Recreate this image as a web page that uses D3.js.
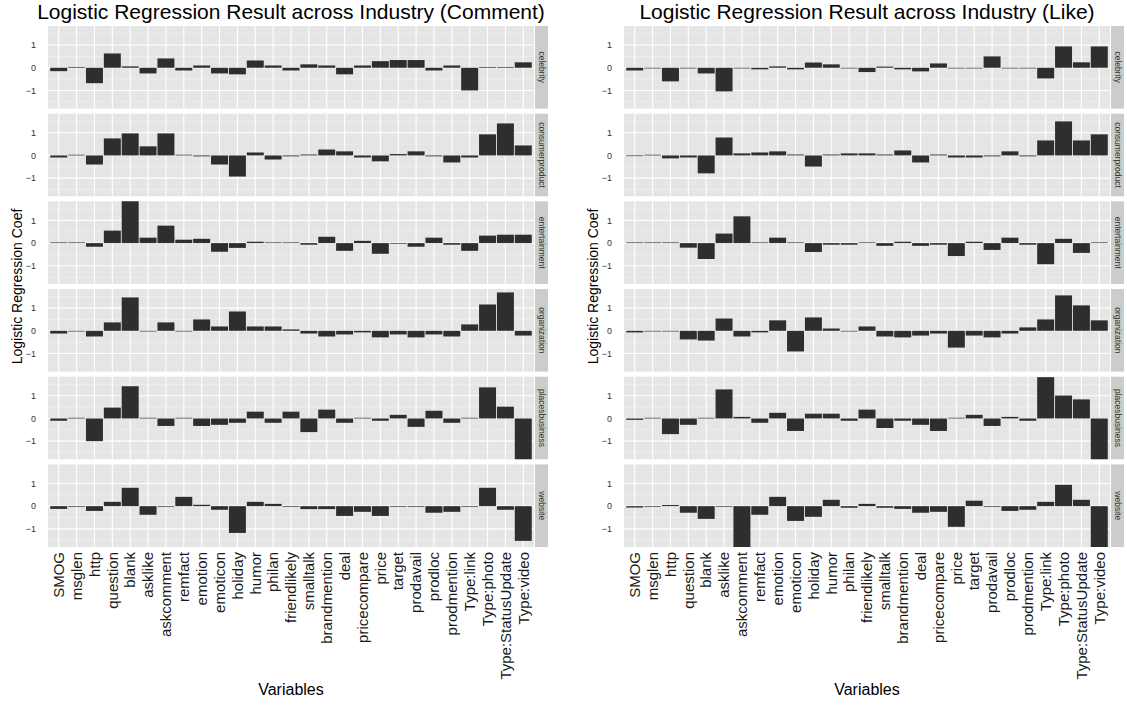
<!DOCTYPE html>
<html>
<head>
<meta charset="utf-8">
<script src="https://cdn.jsdelivr.net/npm/d3@7"></script>
<style>
  body { margin: 0; background: #fff; }
  text { font-family: "Liberation Sans", Arial, sans-serif; }
</style>
</head>
<body>
<div id="chart"></div>
<script>
////////////////////////////////////////////////////////////
//////////////////////// Data //////////////////////////////
////////////////////////////////////////////////////////////

var variables = ["SMOG", "msglen", "http", "question", "blank", "asklike", "askcomment",
  "remfact", "emotion", "emoticon", "holiday", "humor", "philan", "friendlikely",
  "smalltalk", "brandmention", "deal", "pricecompare", "price", "target", "prodavail",
  "prodloc", "prodmention", "Type:link", "Type:photo", "Type:StatusUpdate", "Type:video"];

var industries = ["celebrity", "consumerproduct", "entertainment", "organization", "placesbusiness", "website"];

var yTicks = [-1, 0, 1];
var yMinorTicks = [-1.5, -0.5, 0.5, 1.5];

// comment model coefficients, one array per industry (same order as variables)
var commentCelebrity = [-0.15, 0.03, -0.68, 0.63, 0.06, -0.25, 0.41, -0.12, 0.1, -0.25, -0.29, 0.32, 0.1, -0.12,
  0.15, 0.1, -0.29, 0.1, 0.29, 0.34, 0.34, -0.12, 0.1, -1.0, 0.03, 0.03, 0.24];
var commentConsumer = [-0.09, 0.03, -0.4, 0.75, 0.97, 0.4, 0.97, 0.03, -0.04, -0.4, -0.93, 0.13, -0.18, -0.04,
  0.04, 0.26, 0.18, -0.09, -0.26, 0.06, 0.18, -0.04, -0.31, -0.09, 0.93, 1.41, 0.44];
var commentEntertain = [0.03, 0.03, -0.16, 0.55, 1.95, 0.24, 0.77, 0.15, 0.19, -0.38, -0.21, 0.06, 0.03, 0.03,
  -0.07, 0.28, -0.34, 0.1, -0.47, -0.03, -0.16, 0.24, -0.07, -0.34, 0.33, 0.37, 0.37];
var commentOrganization = [-0.12, -0.03, -0.25, 0.37, 1.47, -0.03, 0.37, -0.03, 0.5, 0.19, 0.85, 0.19, 0.19, 0.06,
  -0.12, -0.25, -0.16, -0.07, -0.29, -0.16, -0.29, -0.16, -0.25, 0.28, 1.16, 1.69, -0.21];
var commentPlaces = [-0.1, 0.03, -1.0, 0.48, 1.42, 0.03, -0.33, 0.03, -0.33, -0.28, -0.19, 0.3, -0.19, 0.3,
  -0.6, 0.39, -0.19, 0.03, -0.1, 0.16, -0.37, 0.34, -0.19, 0.03, 1.37, 0.52, -1.95];
var commentWebsite = [-0.12, -0.03, -0.21, 0.19, 0.81, -0.38, -0.03, 0.41, 0.06, -0.16, -1.18, 0.19, 0.1, -0.03,
  -0.13, -0.13, -0.43, -0.25, -0.43, -0.03, -0.03, -0.29, -0.25, -0.03, 0.81, -0.16, -1.53];

// like model coefficients
var likeCelebrity = [-0.12, -0.03, -0.6, -0.03, -0.25, -1.04, -0.03, -0.07, 0.06, -0.07, 0.23, 0.15, -0.03, -0.19,
  0.05, -0.07, -0.16, 0.19, -0.03, -0.03, 0.5, -0.03, -0.03, -0.47, 0.94, 0.24, 0.94];
var likeConsumer = [-0.03, 0.03, -0.13, -0.09, -0.79, 0.79, 0.09, 0.13, 0.18, 0.04, -0.49, 0.04, 0.09, 0.09,
  0.04, 0.22, -0.31, 0.04, -0.09, -0.09, -0.04, 0.18, -0.04, 0.66, 1.5, 0.66, 0.93];
var likeEntertain = [0.03, 0.03, 0.03, -0.2, -0.7, 0.42, 1.18, 0.03, 0.24, 0.03, -0.39, -0.07, -0.07, 0.03,
  -0.12, 0.06, -0.12, -0.07, -0.57, 0.06, -0.3, 0.24, -0.07, -0.93, 0.19, -0.43, 0.03];
var likeOrganization = [-0.07, -0.03, -0.03, -0.38, -0.43, 0.54, -0.25, -0.07, 0.46, -0.91, 0.59, 0.1, -0.03, 0.19,
  -0.25, -0.29, -0.21, -0.12, -0.74, -0.21, -0.29, -0.12, 0.15, 0.5, 1.56, 1.12, 0.46];
var likePlaces = [-0.06, 0.03, -0.69, -0.28, 0.03, 1.28, 0.07, -0.19, 0.25, -0.55, 0.21, 0.21, -0.1, 0.39,
  -0.42, -0.1, -0.28, -0.55, 0.03, 0.16, -0.33, 0.07, -0.1, 1.82, 1.01, 0.84, -1.95];
var likeWebsite = [-0.06, -0.03, 0.05, -0.29, -0.56, -0.03, -1.95, -0.38, 0.41, -0.65, -0.47, 0.28, -0.07, 0.1,
  -0.07, -0.12, -0.29, -0.25, -0.91, 0.24, -0.03, -0.21, -0.16, 0.19, 0.94, 0.28, -1.95];

var commentCoef = [commentCelebrity, commentConsumer, commentEntertain, commentOrganization, commentPlaces, commentWebsite];
var likeCoef = [likeCelebrity, likeConsumer, likeEntertain, likeOrganization, likePlaces, likeWebsite];

////////////////////////////////////////////////////////////
///////////////////// Set up svg ///////////////////////////
////////////////////////////////////////////////////////////

var width = 1127;
var height = 708;

var svg = d3.select("#chart")
  .append("svg")
  .attr("width", width)
  .attr("height", height);

var panelBg = "#e5e5e5";
var barCol = "#2e2e2e";

// rows of facets, shared by both plots
var rowScale = d3.scaleBand()
  .domain(industries)
  .range([26, 547])
  .paddingInner(0.058);

var y = d3.scaleLinear()
  .domain([-1.8, 1.84])
  .range([rowScale.bandwidth(), 0]);

////////////////////////////////////////////////////////////
////////////////////// Draw a plot /////////////////////////
////////////////////////////////////////////////////////////

function drawPlot(title, coefs, left, right, id) {

  var x = d3.scaleBand()
    .domain(variables)
    .range([left, right])
    .paddingInner(0.05)
    .paddingOuter(0.125);

  var plot = svg.append("g");
  var ph = rowScale.bandwidth();
  var cx = (left + right) / 2;

  // title
  plot.append("text")
    .attr("x", cx)
    .attr("y", 19)
    .attr("text-anchor", "middle")
    .style("font-size", "21px")
    .attr("fill", "#000")
    .text(title);

  industries.forEach(function(ind, r) {
    var top = rowScale(ind);
    var row = plot.append("g").attr("transform", "translate(0," + top + ")");

    row.append("clipPath").attr("id", "clip-" + id + "-" + r)
      .append("rect")
      .attr("x", left).attr("y", 0)
      .attr("width", right - left).attr("height", ph);

    row.append("rect")
      .attr("x", left).attr("y", 0)
      .attr("width", right - left).attr("height", ph)
      .attr("fill", panelBg);

    // minor grid
    row.selectAll(".minor").data(yMinorTicks).enter().append("line")
      .attr("x1", left).attr("x2", right)
      .attr("y1", function(d) { return y(d); })
      .attr("y2", function(d) { return y(d); })
      .attr("stroke", "#f2f2f2")
      .attr("stroke-width", 0.6);

    // major grid
    row.selectAll(".major").data(yTicks).enter().append("line")
      .attr("x1", left).attr("x2", right)
      .attr("y1", function(d) { return y(d); })
      .attr("y2", function(d) { return y(d); })
      .attr("stroke", "#fff")
      .attr("stroke-width", 1.1);

    row.selectAll(".vgrid").data(variables).enter().append("line")
      .attr("x1", function(d) { return x(d) + x.bandwidth() / 2; })
      .attr("x2", function(d) { return x(d) + x.bandwidth() / 2; })
      .attr("y1", 0).attr("y2", ph)
      .attr("stroke", "#fff")
      .attr("stroke-width", 1.1);

    // bars
    row.append("g")
      .attr("clip-path", "url(#clip-" + id + "-" + r + ")")
      .selectAll("rect")
      .data(coefs[r])
      .enter().append("rect")
      .attr("x", function(d, i) { return x(variables[i]); })
      .attr("width", x.bandwidth())
      .attr("y", function(d) { return Math.min(y(0), y(d)); })
      .attr("height", function(d) { return Math.abs(y(d) - y(0)); })
      .attr("fill", barCol);

    // y axis labels
    row.selectAll(".ylab").data(yTicks).enter().append("text")
      .attr("x", left - 12)
      .attr("y", function(d) { return y(d); })
      .attr("dy", "0.35em")
      .attr("text-anchor", "end")
      .style("font-size", "9px")
      .attr("fill", "#333")
      .text(function(d) { return d3.format("")(d).replace("-", "\u2212"); });

    // strip
    row.append("rect")
      .attr("x", right + 1).attr("y", 0)
      .attr("width", 13).attr("height", ph)
      .attr("fill", "#cccccc");
    row.append("text")
      .attr("transform", "translate(" + (right + 7.5) + "," + (ph / 2) + ") rotate(90)")
      .attr("text-anchor", "middle")
      .attr("dy", "0.35em")
      .style("font-size", "8.5px")
      .attr("fill", "#333")
      .text(ind);
  });

  // x tick labels
  var bottom = rowScale.range()[1];
  plot.selectAll(".xlab").data(variables).enter().append("text")
    .attr("transform", function(d) {
      return "translate(" + (x(d) + x.bandwidth() / 2) + "," + (bottom + 5) + ") rotate(-90)";
    })
    .attr("text-anchor", "end")
    .attr("dy", "0.35em")
    .style("font-size", "15px")
    .attr("fill", "#1a1a1a")
    .text(function(d) { return d; });

  // axis titles
  plot.append("text")
    .attr("x", cx)
    .attr("y", 695)
    .attr("text-anchor", "middle")
    .style("font-size", "16px")
    .attr("fill", "#000")
    .text("Variables");

  plot.append("text")
    .attr("transform", "translate(" + (left - 26) + "," + ((rowScale.range()[0] + bottom) / 2) + ") rotate(-90)")
    .attr("text-anchor", "middle")
    .style("font-size", "14px")
    .attr("fill", "#000")
    .text("Logistic Regression Coef");
}

drawPlot("Logistic Regression Result across Industry (Comment)", commentCoef, 48, 534, "c");
drawPlot("Logistic Regression Result across Industry (Like)", likeCoef, 624, 1110, "l");
</script>
</body>
</html>
